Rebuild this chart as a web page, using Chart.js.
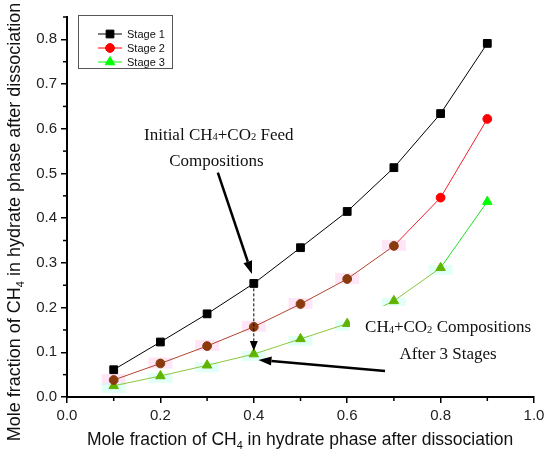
<!DOCTYPE html>
<html>
<head>
<meta charset="utf-8">
<script src="https://cdn.jsdelivr.net/npm/chart.js@4.4.1/dist/chart.umd.min.js"></script>
<style>
  body { margin: 0; background: #fff; }
  #wrap { width: 550px; height: 454px; position: relative; }
</style>
</head>
<body>
<div id="wrap"><canvas id="chart"></canvas></div>
<script>
// Mole fraction of CH4 in the feed (x) for every stage
const feedFractions = [0.1, 0.2, 0.3, 0.4, 0.5, 0.6, 0.7, 0.8, 0.9];
// Mole fraction of CH4 in hydrate phase after dissociation, per stage
const stage1 = [0.061, 0.123, 0.186, 0.254, 0.334, 0.415, 0.513, 0.634, 0.791];
const stage2 = [0.038, 0.075, 0.114, 0.157, 0.208, 0.264, 0.338, 0.446, 0.622];
const stage3 = [0.025, 0.047, 0.071, 0.096, 0.130, 0.164, 0.215, 0.289, 0.437];
const seriesLabels = ['Stage 1', 'Stage 2', 'Stage 3'];

// Tick labels
const xTicks = [0.0, 0.2, 0.4, 0.6, 0.8, 1.0];
const yTicks = [0.0, 0.1, 0.2, 0.3, 0.4, 0.5, 0.6, 0.7, 0.8];
const xMinorTicks = [0.1, 0.3, 0.5, 0.7, 0.9];
const yMinorTicks = [0.05, 0.15, 0.25, 0.35, 0.45, 0.55, 0.65, 0.75, 0.85];

const SANS = '"Liberation Sans", Arial, sans-serif';
const SERIF = '"Liberation Serif", "Times New Roman", serif';

// the old figure has brown / olive markers on most points
const BROWN = '#8b3a0e';
const RED = '#ff0000';
const OLIVE = '#5fb400';
const GREEN = '#00ff00';

function toPoints(ys) {
  return feedFractions.map((x, i) => ({ x: x, y: ys[i] }));
}

// Draws text made of [string, isSubscript] parts
function richWidth(ctx, parts, size, family) {
  let w = 0;
  parts.forEach(p => {
    ctx.font = (p[1] ? size * 0.62 : size) + 'px ' + family;
    w += ctx.measureText(p[0]).width;
  });
  return w;
}

function drawRich(ctx, parts, x, y, size, family, align, subDrop) {
  const w = richWidth(ctx, parts, size, family);
  let cx = align === 'center' ? x - w / 2 : x;
  ctx.textBaseline = 'alphabetic';
  ctx.textAlign = 'left';
  parts.forEach(p => {
    ctx.font = (p[1] ? size * 0.62 : size) + 'px ' + family;
    ctx.fillText(p[0], cx, p[1] ? y + size * subDrop : y);
    cx += ctx.measureText(p[0]).width;
  });
}

function drawArrow(ctx, x1, y1, x2, y2, lw, headLen, headW, dash) {
  const ang = Math.atan2(y2 - y1, x2 - x1);
  const bx = x2 - headLen * Math.cos(ang);
  const by = y2 - headLen * Math.sin(ang);
  ctx.save();
  ctx.strokeStyle = '#000';
  ctx.fillStyle = '#000';
  ctx.lineWidth = lw;
  ctx.setLineDash(dash || []);
  ctx.beginPath();
  ctx.moveTo(x1, y1);
  ctx.lineTo(bx, by);
  ctx.stroke();
  ctx.setLineDash([]);
  ctx.beginPath();
  ctx.moveTo(x2, y2);
  ctx.lineTo(bx + headW / 2 * Math.sin(ang), by - headW / 2 * Math.cos(ang));
  ctx.lineTo(bx - headW / 2 * Math.sin(ang), by + headW / 2 * Math.cos(ang));
  ctx.closePath();
  ctx.fill();
  ctx.restore();
}

// pale blocks behind the brown and olive markers, as in the scanned figure
const markerHalo = {
  id: 'markerHalo',
  beforeDatasetsDraw(chart) {
    const ctx = chart.ctx;
    ctx.save();
    chart.getDatasetMeta(1).data.forEach((pt, i) => {
      if (i > 6) return;
      ctx.fillStyle = 'rgba(255, 200, 235, 0.45)';
      ctx.fillRect(pt.x - 12, pt.y - 6, 24, 11);
    });
    chart.getDatasetMeta(2).data.forEach((pt, i) => {
      if (i > 7) return;
      ctx.fillStyle = 'rgba(190, 255, 240, 0.45)';
      ctx.fillRect(pt.x - 12, pt.y - 3, 24, 10);
    });
    ctx.restore();
  }
};

const decorations = {
  id: 'decorations',
  afterDraw(chart) {
    const ctx = chart.ctx;
    const xs = chart.scales.x;
    const ys = chart.scales.y;
    const a = chart.chartArea;
    ctx.save();

    // minor ticks
    ctx.strokeStyle = '#000';
    ctx.lineWidth = 1.5;
    yMinorTicks.forEach(v => {
      const py = ys.getPixelForValue(v);
      ctx.beginPath(); ctx.moveTo(a.left - 4, py); ctx.lineTo(a.left, py); ctx.stroke();
    });
    xMinorTicks.forEach(v => {
      const px = xs.getPixelForValue(v);
      ctx.beginPath(); ctx.moveTo(px, a.bottom); ctx.lineTo(px, a.bottom + 4); ctx.stroke();
    });

    // axis titles
    ctx.fillStyle = '#111';
    const title = [['Mole fraction of CH', false], ['4', true], [' in hydrate phase after dissociation', false]];
    drawRich(ctx, title, 300, 445, 17.5, SANS, 'center', 0.2);
    ctx.save();
    ctx.translate(20, 222);
    ctx.rotate(-Math.PI / 2);
    drawRich(ctx, title, 0, 0, 18, SANS, 'center', 0.2);
    ctx.restore();

    // annotation text with white box
    const bx = xs.getPixelForValue(0.606);
    const by = ys.getPixelForValue(0.204);
    ctx.fillStyle = '#fff';
    ctx.fillRect(bx, by, a.right - bx + 2, ys.getPixelForValue(0.065) - by);
    ctx.fillStyle = '#111';
    drawRich(ctx, [['Initial CH', false], ['4', true], ['+CO', false], ['2', true], [' Feed', false]],
      xs.getPixelForValue(0.325), ys.getPixelForValue(0.575), 17, SERIF, 'center', 0.03);
    drawRich(ctx, [['Compositions', false]],
      xs.getPixelForValue(0.32), ys.getPixelForValue(0.517), 17, SERIF, 'center', 0);
    drawRich(ctx, [['CH', false], ['4', true], ['+CO', false], ['2', true], [' Compositions', false]],
      xs.getPixelForValue(0.816), ys.getPixelForValue(0.145), 17, SERIF, 'center', 0.03);
    drawRich(ctx, [['After 3 Stages', false]],
      xs.getPixelForValue(0.816), ys.getPixelForValue(0.085), 17, SERIF, 'center', 0);

    // arrows
    drawArrow(ctx, xs.getPixelForValue(0.323), ys.getPixelForValue(0.502),
      xs.getPixelForValue(0.396), ys.getPixelForValue(0.275), 2.5, 13, 9);
    drawArrow(ctx, xs.getPixelForValue(0.4), ys.getPixelForValue(0.243),
      xs.getPixelForValue(0.4), ys.getPixelForValue(0.103), 1, 10, 8, [3, 2]);
    drawArrow(ctx, xs.getPixelForValue(0.681), ys.getPixelForValue(0.058),
      xs.getPixelForValue(0.41), ys.getPixelForValue(0.083), 2.5, 13, 9);

    // legend box
    ctx.strokeStyle = '#555';
    ctx.lineWidth = 1;
    ctx.strokeRect(78.5, 15.5, 94, 53);
    chart.data.datasets.forEach((ds, i) => {
      const ly = 34 + i * 14;
      ctx.strokeStyle = ds.legendColor;
      ctx.lineWidth = 1;
      ctx.beginPath(); ctx.moveTo(98, ly); ctx.lineTo(122, ly); ctx.stroke();
      ctx.fillStyle = ds.legendColor;
      ctx.strokeStyle = ds.legendColor;
      Chart.helpers.drawPoint(ctx, { pointStyle: ds.pointStyle, radius: ds.pointRadius, borderWidth: 1 }, 110, ly);
      ctx.fillStyle = '#111';
      ctx.font = '11px ' + SANS;
      ctx.textAlign = 'left';
      ctx.textBaseline = 'middle';
      ctx.fillText(ds.label, 127, ly + 0.5);
    });
    ctx.restore();
  }
};

const stage2Colors = stage2.map((v, i) => i >= 7 ? RED : BROWN);
const stage3Colors = stage3.map((v, i) => i >= 8 ? GREEN : OLIVE);

new Chart(document.getElementById('chart'), {
  type: 'line',
  data: {
    datasets: [
      {
        label: seriesLabels[0],
        data: toPoints(stage1),
        borderColor: '#000',
        backgroundColor: '#000',
        legendColor: '#000',
        borderWidth: 1,
        pointStyle: 'rect',
        pointRadius: 5.5,
        pointBorderWidth: 1
      },
      {
        label: seriesLabels[1],
        data: toPoints(stage2),
        borderColor: RED,
        legendColor: RED,
        borderWidth: 1,
        pointStyle: 'circle',
        pointRadius: 4.4,
        pointBackgroundColor: stage2Colors,
        pointBorderColor: stage2Colors,
        pointBorderWidth: 1,
        segment: { borderColor: c => c.p0DataIndex >= 6 ? '#f0202a' : '#b0442a' }
      },
      {
        label: seriesLabels[2],
        data: toPoints(stage3),
        borderColor: GREEN,
        legendColor: GREEN,
        borderWidth: 1,
        pointStyle: 'triangle',
        pointRadius: 5.5,
        pointBackgroundColor: stage3Colors,
        pointBorderColor: stage3Colors,
        pointBorderWidth: 1,
        segment: { borderColor: c => c.p0DataIndex >= 7 ? '#22e022' : '#8cc63f' }
      }
    ]
  },
  options: {
    responsive: true,
    maintainAspectRatio: false,
    animation: false,
    layout: { padding: { top: 17, right: 16, left: 0, bottom: 0 } },
    plugins: { legend: { display: false }, tooltip: { enabled: false } },
    scales: {
      x: {
        type: 'linear',
        min: 0,
        max: 1.0,
        afterBuildTicks: s => { s.ticks = xTicks.map(v => ({ value: v })); },
        afterFit: s => { s.height = 57; },
        border: { display: true, color: '#000', width: 2 },
        grid: { drawOnChartArea: false, tickLength: 6, color: '#000', lineWidth: 1.5 },
        ticks: {
          color: '#222',
          padding: 4,
          font: { family: SANS, size: 15 },
          callback: v => v.toFixed(1)
        }
      },
      y: {
        type: 'linear',
        min: 0,
        max: 0.85,
        afterBuildTicks: s => { s.ticks = yTicks.map(v => ({ value: v })); },
        afterFit: s => { s.width = 67; },
        border: { display: true, color: '#000', width: 2 },
        grid: { drawOnChartArea: false, tickLength: 6, color: '#000', lineWidth: 1.5 },
        ticks: {
          color: '#222',
          padding: 4,
          font: { family: SANS, size: 15 },
          callback: v => v.toFixed(1)
        }
      }
    }
  },
  plugins: [markerHalo, decorations]
});
</script>
</body>
</html>
